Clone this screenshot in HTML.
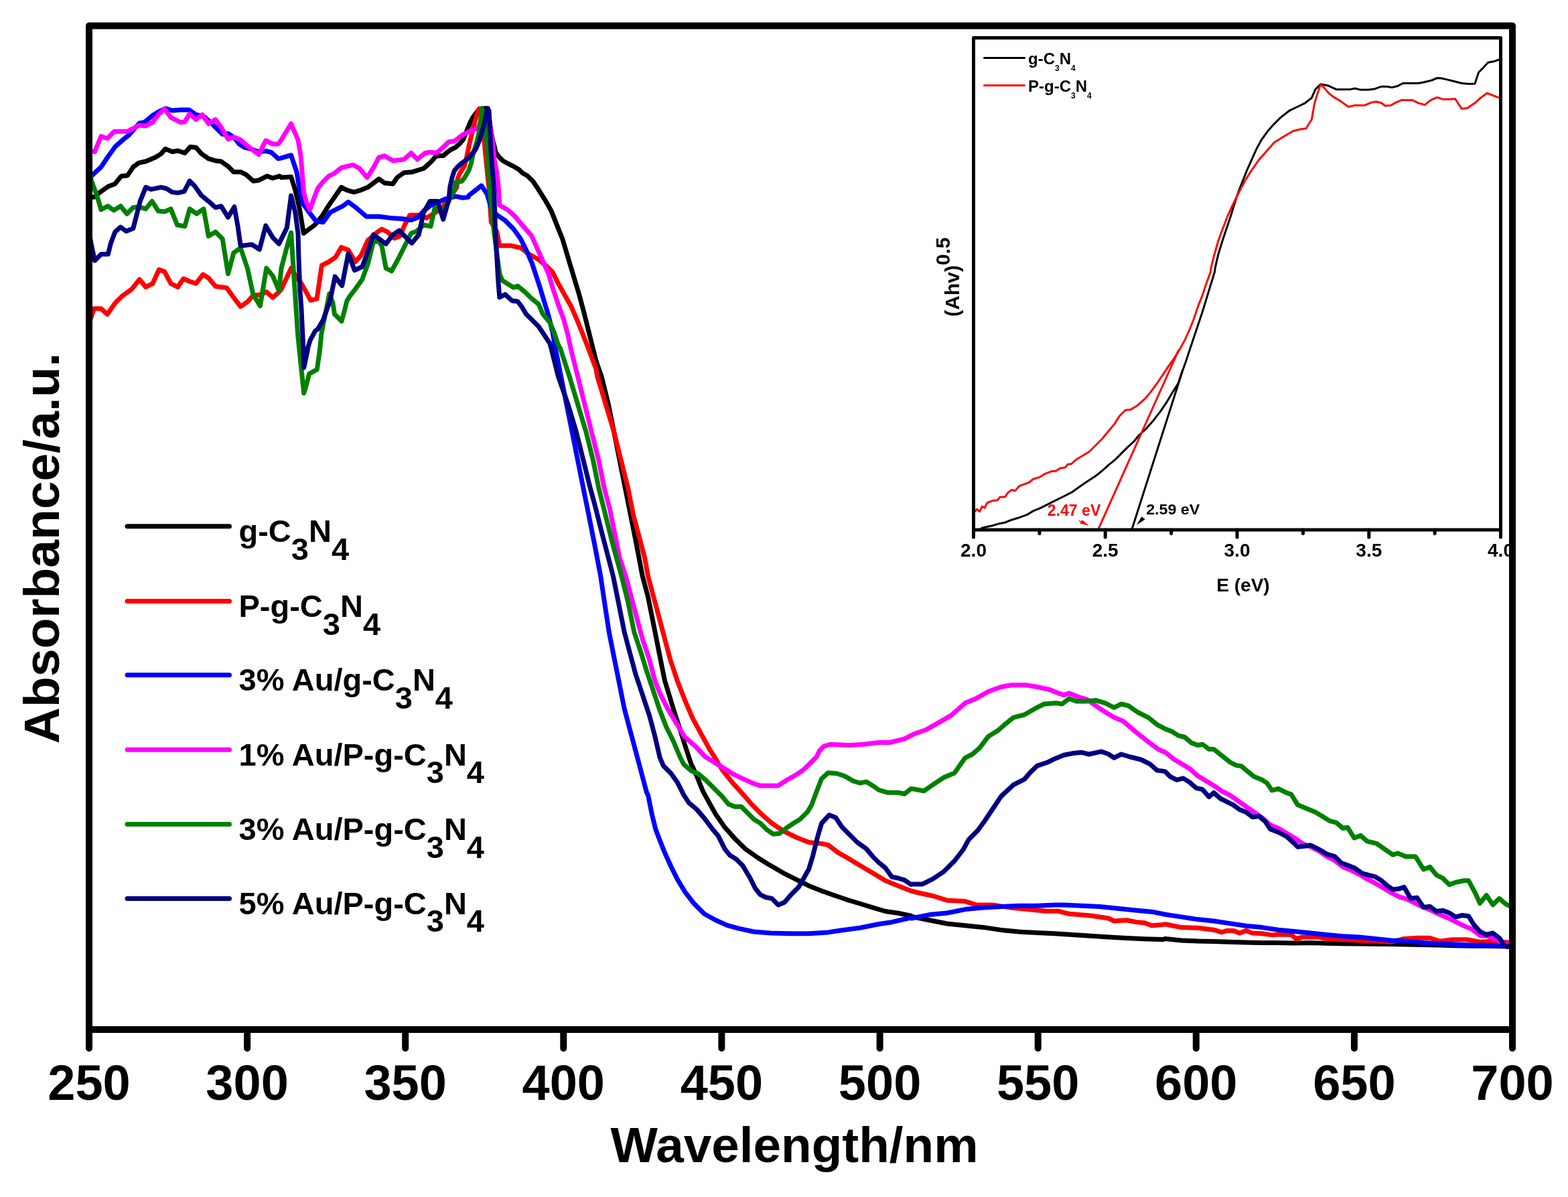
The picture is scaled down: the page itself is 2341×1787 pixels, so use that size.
<!DOCTYPE html>
<html><head><meta charset="utf-8"><title>Absorbance spectra</title>
<style>html,body{margin:0;padding:0;background:#fff;}svg{display:block;}</style>
</head><body>
<svg width="2341" height="1787" viewBox="0 0 2341 1787">
<rect x="0" y="0" width="2341" height="1787" fill="#ffffff"/>
<g fill="none" stroke-width="7" stroke-linejoin="round" stroke-linecap="butt">
<path stroke="#000000" d="M133.0,294.2 L140.5,294.2 L150.9,285.8 L161.3,278.5 L171.8,274.4 L181.1,262.9 L190.5,261.9 L198.8,249.4 L207.2,243.1 L217.6,241.0 L232.2,234.8 L240.5,229.6 L246.8,222.3 L257.2,226.5 L265.5,225.0 L275.9,228.5 L284.2,219.2 L292.6,220.2 L300.9,229.6 L311.3,236.9 L321.8,240.0 L330.1,241.0 L340.5,248.3 L348.8,256.7 L359.2,256.7 L367.6,260.8 L378.0,270.2 L386.3,269.2 L398.8,262.9 L407.2,266.0 L417.6,262.9 L420.0,265.0 L434.6,264.0 L440.8,283.8 L447.1,310.8 L453.3,348.3 L470.0,335.8 L480.4,323.3 L490.8,306.7 L509.6,279.6 L517.9,283.8 L528.3,286.9 L538.8,283.8 L549.2,279.6 L565.8,267.1 L574.2,273.3 L586.7,274.4 L592.9,265.0 L603.3,257.7 L615.8,256.7 L632.5,251.5 L640.0,245.0 L645.0,240.0 L650.8,233.3 L656.7,232.5 L661.7,232.5 L667.5,227.5 L673.3,223.3 L680.0,220.0 L685.8,215.0 L691.7,208.3 L695.0,200.0 L698.3,191.7 L701.7,183.3 L705.0,176.7 L709.2,170.8 L712.5,166.7 L715.8,162.9 L723.3,161.8 L728.3,161.8 L731.7,186.7 L733.8,200.0 L735.8,210.8 L738.3,219.2 L740.0,227.5 L745.0,234.2 L750.8,240.0 L758.3,244.2 L766.7,248.3 L775.0,253.3 L780.0,258.3 L787.5,262.5 L795.8,270.8 L804.2,283.3 L814.6,300.0 L822.9,314.6 L831.2,335.4 L839.6,356.2 L845.8,377.1 L852.1,397.9 L858.3,418.8 L864.6,439.6 L870.8,462.5 L877.1,487.5 L883.3,512.5 L889.6,537.5 L893.8,550.0 L897.9,561.7 L908.3,603.3 L916.7,645.0 L925.0,686.7 L933.3,728.3 L941.7,770.0 L950.0,811.7 L959.2,860.0 L967.5,891.2 L973.8,922.5 L980.0,953.8 L986.2,985.0 L992.5,1016.2 L1000.8,1043.3 L1007.1,1064.2 L1015.4,1089.2 L1023.8,1116.2 L1032.1,1141.2 L1034.3,1145.2 L1041.9,1162.4 L1049.5,1181.4 L1059.0,1198.6 L1068.6,1215.7 L1081.9,1234.8 L1097.1,1251.9 L1112.4,1267.1 L1131.4,1280.5 L1146.7,1290.0 L1169.5,1303.3 L1188.6,1312.9 L1207.6,1322.4 L1226.7,1330.0 L1245.7,1336.7 L1264.8,1343.3 L1283.8,1349.0 L1302.9,1354.8 L1321.9,1360.5 L1341.0,1363.3 L1360.0,1367.1 L1360.7,1368.3 L1387.5,1373.7 L1414.2,1379.0 L1441.0,1381.7 L1467.8,1384.4 L1494.6,1388.4 L1521.4,1391.1 L1548.2,1392.4 L1574.9,1393.8 L1601.7,1395.6 L1628.5,1397.2 L1655.3,1399.1 L1682.1,1400.5 L1708.8,1401.8 L1735.6,1402.6 L1740.0,1401.5 L1764.1,1403.9 L1788.2,1405.1 L1812.2,1405.5 L1836.3,1406.3 L1860.4,1407.0 L1884.5,1407.5 L1908.6,1407.5 L1932.6,1408.0 L1956.7,1407.5 L1980.8,1408.2 L2004.9,1408.7 L2028.9,1408.9 L2053.0,1409.2 L2077.1,1409.4 L2101.2,1409.9 L2125.3,1410.4 L2149.3,1411.1 L2173.4,1411.8 L2197.5,1412.3 L2221.6,1412.3 L2245.7,1412.8 L2255.3,1412.8"/>
<path stroke="#FF0000" d="M133.0,481.7 L140.5,460.8 L150.9,460.8 L160.3,469.2 L171.8,452.5 L182.2,442.1 L196.8,431.7 L208.2,417.1 L217.6,428.5 L228.0,423.3 L237.4,402.5 L245.7,405.6 L255.1,423.3 L265.5,428.5 L273.8,416.0 L283.2,420.2 L292.6,423.3 L303.0,409.8 L311.3,415.0 L321.8,427.5 L338.4,429.6 L348.8,444.2 L359.2,457.7 L369.7,450.4 L378.0,441.0 L388.4,440.0 L397.8,435.8 L407.2,444.2 L415.5,436.9 L420.0,431.7 L434.6,400.4 L440.8,410.8 L451.2,425.4 L463.8,448.3 L473.1,446.2 L480.4,396.2 L490.8,391.0 L501.2,383.8 L509.6,369.2 L520.0,373.3 L530.4,391.0 L538.8,381.7 L549.2,358.8 L563.8,346.2 L570.0,342.1 L578.3,346.2 L588.8,355.6 L597.1,352.5 L603.3,337.9 L611.7,321.2 L624.2,321.2 L636.7,325.4 L647.1,319.2 L659.6,310.8 L672.1,294.2 L681.7,280.0 L683.3,266.7 L686.7,258.3 L693.3,248.3 L696.7,234.2 L701.7,210.8 L705.0,198.3 L706.7,190.0 L710.8,175.0 L713.3,165.0 L715.4,162.5 L717.9,167.5 L720.0,181.7 L721.7,198.3 L723.3,215.0 L725.8,240.0 L728.3,265.0 L730.0,280.0 L733.3,331.2 L741.7,345.8 L745.8,366.7 L762.5,366.7 L777.1,369.8 L789.6,379.2 L804.2,387.5 L816.7,397.9 L825.0,406.2 L833.3,422.9 L843.8,441.7 L852.1,456.2 L860.4,475.0 L868.8,495.8 L877.1,516.7 L883.3,533.3 L889.6,550.0 L891.7,561.7 L904.2,603.3 L916.7,645.0 L927.1,686.7 L937.5,728.3 L945.8,770.0 L954.2,801.2 L962.5,832.5 L967.5,860.0 L975.8,891.2 L984.2,922.5 L992.5,953.8 L1000.8,985.0 L1011.2,1016.2 L1021.7,1043.3 L1034.2,1072.5 L1046.7,1095.4 L1059.2,1118.3 L1066.7,1130.0 L1078.1,1149.0 L1093.3,1168.1 L1110.5,1187.1 L1121.9,1200.5 L1137.1,1215.7 L1152.4,1229.0 L1169.5,1240.5 L1188.6,1250.0 L1207.6,1257.6 L1226.7,1259.5 L1236.2,1261.4 L1251.4,1272.9 L1264.8,1280.5 L1283.8,1291.9 L1302.9,1303.3 L1321.9,1314.8 L1341.0,1322.4 L1360.0,1330.0 L1374.1,1333.5 L1392.8,1337.5 L1414.2,1344.2 L1441.0,1345.6 L1457.1,1350.9 L1481.2,1350.9 L1508.0,1354.9 L1534.8,1357.6 L1561.5,1360.3 L1580.3,1360.3 L1596.4,1364.3 L1628.5,1367.0 L1655.3,1371.0 L1663.3,1375.0 L1682.1,1373.7 L1695.4,1376.4 L1708.8,1377.7 L1719.6,1381.7 L1735.6,1380.4 L1740.0,1379.8 L1752.0,1382.2 L1764.1,1384.6 L1788.2,1385.3 L1812.2,1388.2 L1824.3,1391.8 L1831.5,1389.4 L1841.1,1389.4 L1850.8,1393.0 L1860.4,1389.4 L1870.0,1393.0 L1884.5,1393.7 L1898.9,1395.9 L1908.6,1395.0 L1927.8,1395.4 L1935.0,1401.5 L1944.7,1399.0 L1956.7,1399.0 L1968.8,1399.0 L1980.8,1401.5 L2004.9,1402.7 L2028.9,1403.9 L2053.0,1405.1 L2077.1,1406.3 L2096.4,1401.5 L2115.6,1400.3 L2134.9,1400.3 L2149.3,1405.1 L2168.6,1402.7 L2190.3,1402.7 L2209.5,1406.3 L2233.6,1405.1 L2255.3,1407.5"/>
<path stroke="#0000FF" d="M133.0,273.3 L136.3,262.9 L150.9,249.4 L161.3,233.8 L171.8,219.2 L182.2,209.8 L192.6,201.5 L208.2,183.8 L215.5,182.7 L228.0,172.3 L236.3,167.1 L246.8,161.9 L257.2,165.0 L269.7,164.0 L282.2,164.0 L292.6,171.2 L305.1,174.4 L315.5,183.8 L323.8,192.1 L332.2,200.4 L340.5,199.4 L348.8,204.6 L357.2,215.0 L365.5,220.2 L373.8,222.3 L386.3,226.5 L396.8,225.4 L405.1,227.5 L415.5,236.9 L420.0,235.8 L434.6,231.7 L442.9,256.7 L447.1,281.7 L451.2,302.5 L461.7,317.1 L472.1,330.6 L482.5,331.7 L492.9,317.1 L503.3,311.9 L511.7,307.7 L520.0,301.5 L532.5,310.8 L547.1,323.3 L565.8,323.3 L582.5,325.4 L599.2,326.5 L613.8,328.5 L624.2,324.4 L632.5,315.0 L642.9,306.7 L653.3,302.5 L663.8,297.3 L680.4,293.1 L690.8,295.2 L699.2,294.2 L700.0,291.7 L708.3,285.4 L718.8,277.1 L727.1,289.6 L733.3,310.4 L741.7,320.8 L754.2,329.2 L766.7,341.7 L777.1,356.2 L785.4,372.9 L793.8,391.7 L800.0,410.4 L806.2,429.2 L812.5,450.0 L818.8,470.8 L825.0,495.8 L829.2,520.0 L837.5,561.7 L845.8,603.3 L854.2,645.0 L862.5,686.7 L870.8,728.3 L879.2,770.0 L887.5,811.7 L896.7,860.0 L902.9,901.7 L909.2,943.3 L917.5,985.0 L923.8,1016.2 L932.1,1057.9 L940.4,1089.2 L948.8,1120.4 L957.1,1151.7 L965.4,1182.9 L967.6,1187.1 L973.3,1215.7 L979.0,1238.6 L984.8,1253.8 L992.4,1272.9 L1001.9,1293.8 L1011.4,1312.9 L1022.9,1331.9 L1036.2,1349.0 L1051.4,1364.3 L1068.6,1373.8 L1085.7,1381.4 L1102.9,1386.2 L1125.7,1391.0 L1150.5,1392.9 L1179.0,1393.8 L1207.6,1393.8 L1236.2,1391.9 L1255.2,1389.0 L1283.8,1385.2 L1312.4,1379.5 L1331.4,1376.7 L1360.0,1370.0 L1360.7,1371.0 L1387.5,1365.6 L1414.2,1363.0 L1441.0,1357.6 L1467.8,1354.9 L1494.6,1353.6 L1521.4,1352.3 L1548.2,1352.3 L1574.9,1350.9 L1588.3,1350.9 L1615.1,1352.3 L1641.9,1353.6 L1668.7,1356.3 L1695.4,1359.0 L1722.2,1361.6 L1740.0,1365.3 L1764.1,1368.9 L1788.2,1372.6 L1812.2,1375.0 L1836.3,1378.6 L1860.4,1382.2 L1884.5,1384.6 L1908.6,1388.2 L1932.6,1390.6 L1956.7,1393.0 L1980.8,1395.4 L2004.9,1397.8 L2028.9,1399.0 L2053.0,1401.5 L2077.1,1403.9 L2101.2,1405.1 L2125.3,1407.5 L2149.3,1408.7 L2173.4,1409.9 L2197.5,1411.1 L2221.6,1411.1 L2245.7,1412.3 L2255.3,1412.3"/>
<path stroke="#FF00FF" d="M133.0,225.4 L141.5,226.5 L150.9,203.5 L160.3,206.7 L170.7,196.2 L190.5,196.2 L208.2,186.9 L217.6,187.9 L228.0,182.7 L236.3,171.2 L245.7,162.5 L255.1,175.4 L269.7,182.7 L275.9,181.7 L283.2,170.2 L292.6,178.5 L302.0,171.2 L311.3,184.8 L321.8,178.5 L330.1,190.0 L340.5,207.7 L348.8,204.6 L359.2,208.8 L369.7,218.1 L386.3,230.6 L396.8,209.8 L407.2,215.0 L415.5,215.0 L420.0,208.8 L434.6,184.8 L445.0,208.8 L449.2,233.8 L453.3,285.8 L457.5,302.5 L462.7,312.9 L467.9,298.3 L474.2,281.7 L482.5,271.2 L490.8,262.9 L499.2,258.8 L509.6,250.4 L517.9,248.3 L527.3,246.2 L536.7,251.5 L548.1,265.0 L557.5,250.4 L565.8,234.8 L574.2,232.7 L586.7,240.0 L603.3,237.9 L613.8,228.5 L623.1,237.9 L634.6,228.5 L640.0,227.5 L645.0,227.5 L651.7,228.3 L656.7,224.2 L663.3,218.3 L670.0,211.7 L678.3,210.8 L685.0,205.8 L690.0,201.7 L696.7,198.3 L701.7,195.8 L706.7,195.0 L715.0,188.3 L720.0,175.0 L724.2,167.5 L728.3,167.5 L730.8,181.7 L733.3,198.3 L735.8,215.0 L738.3,240.0 L741.7,256.7 L744.2,280.0 L745.8,306.2 L758.3,313.5 L768.8,322.9 L779.2,335.4 L793.8,352.1 L802.1,370.8 L810.4,389.6 L818.8,408.3 L825.0,429.2 L833.3,454.2 L841.7,477.1 L847.9,500.0 L852.1,520.0 L862.5,561.7 L872.9,603.3 L883.3,645.0 L893.8,686.7 L902.1,728.3 L910.4,759.6 L918.8,801.2 L925.0,832.5 L934.2,860.0 L942.5,891.2 L950.8,922.5 L959.2,953.8 L969.6,985.0 L977.9,1016.2 L986.2,1037.1 L996.7,1057.9 L1009.2,1078.8 L1021.7,1099.6 L1038.3,1114.2 L1053.3,1130.0 L1062.9,1135.7 L1078.1,1145.2 L1093.3,1154.8 L1108.6,1162.4 L1125.7,1170.0 L1135.2,1172.9 L1161.9,1172.9 L1175.2,1164.3 L1188.6,1156.7 L1200.0,1149.0 L1213.3,1135.7 L1219.0,1130.0 L1223.8,1120.4 L1230.0,1114.2 L1240.2,1111.2 L1267.0,1112.6 L1288.4,1111.2 L1312.5,1108.5 L1328.5,1108.5 L1350.0,1103.2 L1366.0,1095.2 L1382.1,1089.8 L1400.9,1079.1 L1419.6,1068.4 L1441.0,1049.6 L1457.1,1042.9 L1475.8,1032.2 L1494.6,1025.5 L1510.7,1022.8 L1532.1,1022.8 L1548.2,1025.5 L1566.9,1029.5 L1580.3,1034.9 L1588.3,1037.6 L1596.4,1034.9 L1609.7,1040.3 L1623.1,1044.3 L1641.9,1057.7 L1663.3,1071.1 L1676.7,1076.4 L1695.4,1092.5 L1714.2,1107.2 L1730.3,1119.3 L1740.0,1123.3 L1752.0,1133.0 L1764.1,1140.2 L1776.1,1147.4 L1788.2,1158.3 L1800.2,1165.5 L1812.2,1172.7 L1824.3,1181.1 L1836.3,1187.2 L1848.4,1195.6 L1860.4,1204.0 L1872.4,1212.4 L1884.5,1220.9 L1896.5,1231.7 L1908.6,1236.5 L1920.6,1243.7 L1932.6,1251.0 L1944.7,1259.4 L1956.7,1264.2 L1968.8,1270.2 L1980.8,1278.7 L1992.8,1284.7 L2004.9,1294.3 L2016.9,1299.1 L2028.9,1305.1 L2041.0,1312.4 L2053.0,1318.4 L2065.1,1325.6 L2077.1,1332.8 L2089.1,1338.8 L2101.2,1342.5 L2113.2,1348.5 L2125.3,1354.5 L2137.3,1359.3 L2149.3,1365.3 L2161.4,1370.2 L2173.4,1376.2 L2185.5,1382.2 L2197.5,1387.0 L2209.5,1396.6 L2221.6,1397.8 L2233.6,1402.7 L2245.7,1408.7 L2255.3,1412.3"/>
<path stroke="#008000" d="M133.0,248.3 L136.3,269.2 L144.7,292.1 L150.9,312.9 L161.3,307.7 L169.7,314.0 L180.1,307.7 L189.5,319.2 L198.8,309.8 L207.2,308.8 L217.6,311.9 L227.0,300.4 L236.3,315.0 L245.7,316.0 L255.1,311.9 L264.5,335.8 L275.9,337.9 L283.2,311.9 L293.6,319.2 L304.0,311.9 L311.3,352.5 L321.8,346.2 L332.2,356.7 L340.5,408.8 L348.8,377.5 L359.2,370.2 L369.7,401.5 L378.0,440.0 L388.4,456.7 L397.8,400.4 L407.2,411.9 L416.5,433.8 L420.0,400.4 L428.3,369.2 L434.6,347.3 L436.7,380.0 L439.3,419.3 L441.9,458.6 L444.5,497.9 L447.1,524.1 L449.8,550.2 L453.7,586.9 L457.6,573.8 L461.6,558.1 L473.3,551.6 L477.3,524.1 L479.9,497.9 L483.8,478.2 L489.1,452.0 L491.7,438.9 L496.9,452.0 L499.5,469.1 L510.0,479.5 L513.9,465.1 L517.9,449.4 L521.8,442.9 L530.4,431.7 L540.8,417.1 L549.2,394.2 L557.5,360.8 L565.8,360.8 L570.0,367.1 L576.2,400.4 L584.6,404.6 L595.0,385.8 L607.5,360.8 L613.8,348.3 L622.1,345.2 L632.5,335.8 L642.9,337.9 L649.2,310.8 L661.7,315.0 L670.0,300.4 L679.2,280.0 L680.8,271.7 L689.2,270.8 L693.3,265.8 L700.0,254.2 L703.3,244.2 L705.8,231.7 L708.3,223.3 L711.7,212.5 L715.0,198.3 L717.9,177.5 L718.8,165.0 L719.2,161.7 L721.2,169.2 L724.2,185.8 L726.7,215.0 L729.2,248.3 L730.8,280.0 L737.5,345.8 L745.8,408.3 L750.0,418.8 L766.7,429.2 L772.9,427.1 L783.3,435.4 L793.8,445.8 L804.2,454.2 L810.4,468.8 L820.8,481.2 L827.1,495.8 L833.3,514.6 L836.5,520.0 L850.0,561.7 L862.5,603.3 L875.0,645.0 L885.4,686.7 L893.8,728.3 L904.2,770.0 L914.6,811.7 L927.9,860.0 L938.3,901.7 L946.7,943.3 L957.1,974.6 L965.4,1001.7 L973.8,1026.7 L984.2,1057.9 L994.6,1085.0 L1005.0,1105.8 L1015.2,1130.0 L1021.0,1141.4 L1032.4,1151.0 L1041.9,1154.8 L1053.3,1164.3 L1066.7,1177.6 L1078.1,1189.0 L1087.6,1200.5 L1097.1,1204.3 L1106.7,1204.3 L1116.2,1213.8 L1125.7,1223.3 L1135.2,1229.0 L1144.8,1238.6 L1154.3,1245.2 L1163.8,1244.3 L1173.3,1236.7 L1184.8,1229.0 L1194.3,1223.3 L1205.7,1211.9 L1211.4,1202.4 L1217.1,1187.1 L1222.9,1171.9 L1226.7,1162.4 L1236.2,1153.8 L1249.5,1154.8 L1261.0,1158.6 L1274.3,1166.2 L1283.8,1169.0 L1293.3,1167.1 L1302.9,1172.9 L1312.4,1179.5 L1325.7,1183.3 L1341.0,1183.3 L1350.5,1185.2 L1360.0,1177.6 L1366.0,1178.2 L1379.4,1180.9 L1392.8,1171.5 L1408.9,1160.8 L1425.0,1154.1 L1441.0,1131.3 L1451.7,1126.0 L1462.5,1116.6 L1475.8,1099.2 L1489.2,1091.1 L1499.9,1081.8 L1513.3,1071.1 L1529.4,1067.0 L1545.5,1057.7 L1558.9,1051.0 L1577.6,1049.6 L1585.6,1051.0 L1596.4,1042.9 L1607.1,1047.0 L1620.5,1047.0 L1636.5,1045.6 L1649.9,1049.6 L1663.3,1056.3 L1674.0,1051.0 L1684.7,1053.6 L1698.1,1063.0 L1714.2,1071.1 L1727.6,1081.8 L1740.0,1088.4 L1749.6,1092.0 L1759.3,1098.1 L1768.9,1100.5 L1778.5,1108.9 L1788.2,1112.5 L1795.4,1111.3 L1805.0,1118.5 L1812.2,1118.5 L1824.3,1128.2 L1836.3,1137.8 L1845.9,1142.6 L1853.2,1143.8 L1860.4,1149.8 L1872.4,1159.5 L1884.5,1164.3 L1891.7,1169.1 L1898.9,1179.9 L1908.6,1177.5 L1920.6,1183.5 L1927.8,1185.9 L1937.4,1201.6 L1949.5,1206.4 L1963.9,1212.4 L1976.0,1219.7 L1985.6,1225.7 L1995.2,1228.1 L2004.9,1236.5 L2012.1,1235.3 L2021.7,1251.0 L2031.4,1247.3 L2041.0,1255.8 L2055.4,1259.4 L2067.5,1267.8 L2079.5,1276.2 L2086.7,1273.8 L2098.8,1278.7 L2113.2,1278.7 L2125.3,1297.9 L2134.9,1294.3 L2144.5,1306.3 L2154.2,1311.2 L2163.8,1320.8 L2173.4,1317.2 L2185.5,1314.8 L2192.7,1314.8 L2202.3,1332.8 L2209.5,1348.5 L2219.2,1336.4 L2228.8,1350.9 L2238.4,1341.3 L2248.1,1349.7 L2255.3,1353.3"/>
<path stroke="#000080" d="M133.0,346.2 L136.3,365.0 L141.5,389.0 L150.9,379.6 L161.3,379.6 L165.5,362.9 L171.8,346.2 L180.1,339.0 L188.4,345.2 L198.8,341.0 L204.0,321.2 L209.2,300.4 L217.6,279.6 L225.9,282.7 L240.5,279.6 L248.8,281.7 L257.2,286.9 L265.5,287.9 L274.9,285.8 L283.2,270.2 L290.5,277.5 L300.9,292.1 L311.3,300.4 L321.8,309.8 L330.1,307.7 L340.5,324.4 L349.9,308.8 L355.1,337.9 L359.2,367.1 L375.9,365.0 L387.4,372.3 L396.8,336.9 L407.2,354.6 L416.5,364.0 L428.3,340.0 L434.6,292.1 L440.8,317.1 L445.0,348.3 L445.8,380.0 L447.8,432.4 L449.8,458.6 L452.4,511.0 L453.7,548.9 L457.6,530.6 L460.2,517.5 L462.9,508.3 L470.7,493.9 L474.6,491.3 L482.5,477.5 L492.9,448.3 L500.2,412.9 L510.6,426.5 L520.0,378.5 L529.4,403.5 L540.8,398.3 L549.2,375.4 L557.5,350.4 L576.2,364.0 L586.7,350.4 L596.0,344.2 L614.8,362.9 L625.2,350.4 L632.5,317.1 L641.9,300.4 L653.3,300.4 L661.7,327.5 L670.0,298.3 L671.7,280.0 L675.0,265.0 L678.3,255.0 L681.7,250.8 L687.5,245.0 L696.7,238.3 L703.3,231.7 L710.0,223.3 L715.0,211.7 L719.2,198.3 L723.3,184.2 L725.8,170.8 L727.9,162.5 L730.0,165.0 L731.7,198.3 L733.3,231.7 L735.8,260.8 L737.5,280.0 L739.6,345.8 L743.8,418.8 L745.8,443.8 L754.2,439.6 L764.6,449.0 L772.9,450.0 L779.2,458.3 L785.4,468.8 L793.8,477.1 L804.2,487.5 L812.5,500.0 L820.8,512.5 L822.9,520.0 L833.3,561.7 L847.9,603.3 L860.4,645.0 L870.8,686.7 L881.2,728.3 L889.6,759.6 L900.0,801.2 L908.3,832.5 L915.4,860.0 L923.8,901.7 L932.1,943.3 L940.4,974.6 L948.8,1005.8 L959.2,1037.1 L969.6,1068.3 L977.9,1099.6 L984.2,1126.7 L984.8,1130.0 L990.5,1143.3 L1001.9,1154.8 L1011.4,1168.1 L1021.0,1187.1 L1028.6,1198.6 L1040.0,1208.1 L1051.4,1221.4 L1062.9,1236.7 L1072.4,1248.1 L1081.9,1267.1 L1089.5,1276.7 L1099.0,1282.4 L1108.6,1291.9 L1120.0,1311.0 L1127.6,1326.2 L1135.2,1335.7 L1142.9,1339.5 L1152.4,1341.4 L1161.9,1351.0 L1171.4,1347.1 L1181.0,1335.7 L1192.4,1324.3 L1200.0,1311.0 L1207.6,1297.6 L1213.3,1278.6 L1217.1,1263.3 L1221.0,1248.1 L1226.7,1229.0 L1238.1,1216.7 L1247.6,1220.5 L1257.1,1234.8 L1268.6,1246.2 L1280.0,1257.6 L1293.3,1267.1 L1302.9,1278.6 L1312.4,1288.1 L1321.9,1295.7 L1331.4,1309.0 L1341.0,1311.0 L1350.5,1313.8 L1360.0,1320.5 L1360.7,1320.1 L1376.8,1320.1 L1392.8,1312.1 L1408.9,1301.4 L1425.0,1285.3 L1438.4,1267.9 L1446.4,1253.2 L1459.8,1239.8 L1470.5,1225.0 L1481.2,1209.0 L1494.6,1188.9 L1513.3,1171.5 L1529.4,1163.4 L1537.4,1154.1 L1548.2,1143.4 L1564.2,1138.0 L1574.9,1132.7 L1588.3,1127.3 L1601.7,1124.6 L1615.1,1123.3 L1625.8,1126.0 L1644.6,1121.9 L1655.3,1126.0 L1663.3,1131.3 L1674.0,1126.0 L1687.4,1130.0 L1703.5,1134.0 L1716.9,1140.7 L1727.6,1150.1 L1738.3,1151.4 L1740.0,1152.2 L1747.2,1159.5 L1756.9,1164.3 L1766.5,1161.9 L1776.1,1167.9 L1785.8,1176.3 L1795.4,1178.7 L1805.0,1189.6 L1812.2,1183.5 L1821.9,1192.0 L1831.5,1196.8 L1841.1,1201.6 L1850.8,1208.8 L1860.4,1212.4 L1870.0,1219.7 L1879.7,1218.5 L1889.3,1226.9 L1896.5,1237.7 L1908.6,1242.5 L1920.6,1248.6 L1932.6,1259.4 L1937.4,1264.2 L1949.5,1263.0 L1956.7,1261.8 L1968.8,1267.8 L1980.8,1275.0 L1992.8,1278.7 L2002.5,1288.3 L2012.1,1291.9 L2021.7,1295.5 L2033.8,1303.9 L2043.4,1306.3 L2053.0,1308.8 L2062.7,1314.8 L2072.3,1323.2 L2079.5,1328.0 L2089.1,1326.8 L2096.4,1324.4 L2106.0,1341.3 L2115.6,1340.1 L2125.3,1354.5 L2134.9,1353.3 L2144.5,1360.5 L2154.2,1359.3 L2163.8,1362.9 L2173.4,1368.9 L2183.1,1366.5 L2192.7,1367.7 L2199.9,1379.8 L2209.5,1390.6 L2219.2,1395.4 L2228.8,1393.0 L2238.4,1400.3 L2245.7,1411.1 L2250.5,1413.5 L2255.3,1411.1"/>
</g>
<g fill="none" stroke-width="3" stroke-linejoin="round">
<path stroke="#000000" d="M1464.4,788.6 L1472.0,786.7 L1481.6,784.8 L1491.1,781.9 L1500.6,780.0 L1510.1,776.2 L1519.7,773.3 L1533.0,768.6 L1542.5,762.9 L1554.0,758.1 L1565.4,752.4 L1576.8,746.7 L1588.2,741.0 L1599.7,735.2 L1613.0,725.7 L1624.4,718.1 L1635.9,710.5 L1645.4,702.9 L1654.9,694.3 L1664.4,686.7 L1674.0,677.1 L1683.5,667.6 L1693.0,659.0 L1700.6,649.5 L1711.2,640.1 L1722.0,627.7 L1732.9,613.7 L1742.2,599.8 L1751.5,584.3 L1759.2,572.0 L1763.8,558.0 L1770.0,541.0 L1776.2,522.4 L1782.4,503.8 L1788.6,485.3 L1794.8,466.7 L1801.0,446.6 L1807.2,426.4 L1813.4,406.3 L1814.2,400.1 L1818.8,379.9 L1825.0,359.8 L1831.2,341.2 L1837.4,322.7 L1843.6,302.5 L1849.8,284.0 L1856.0,268.5 L1862.2,253.0 L1868.4,239.1 L1876.1,222.0 L1883.8,208.1 L1891.6,197.3 L1900.9,186.4 L1911.7,175.6 L1925.6,164.8 L1940.0,158.0 L1948.5,153.8 L1958.3,146.1 L1963.9,133.4 L1971.7,125.6 L1982.3,127.7 L1994.9,133.4 L2016.1,133.4 L2023.1,132.0 L2031.5,134.1 L2042.8,134.1 L2052.7,132.7 L2062.5,129.2 L2071.0,129.2 L2078.0,130.6 L2086.5,128.5 L2094.9,124.2 L2117.5,124.2 L2125.9,122.8 L2137.2,120.0 L2145.6,116.5 L2151.3,116.8 L2159.7,118.6 L2168.2,120.7 L2182.3,124.2 L2192.1,125.2 L2202.0,124.9 L2207.6,108.0 L2213.2,102.4 L2221.7,93.2 L2230.1,91.8 L2235.8,89.7 L2238.6,89.0"/>
<path stroke="#FF0000" d="M1453.5,765.7 L1458.7,760.0 L1462.5,763.8 L1466.3,756.2 L1470.1,758.1 L1474.0,750.5 L1481.6,747.6 L1489.2,746.7 L1493.0,741.9 L1500.6,741.9 L1504.4,736.2 L1510.1,731.4 L1515.9,732.4 L1521.6,725.7 L1529.2,722.9 L1536.8,720.0 L1542.5,715.2 L1552.0,712.4 L1559.7,707.6 L1569.2,703.8 L1576.8,702.9 L1582.5,699.0 L1590.1,698.1 L1594.0,693.3 L1599.7,692.4 L1607.3,685.7 L1616.8,680.0 L1626.3,674.3 L1635.9,664.8 L1645.4,655.2 L1654.9,643.8 L1664.4,632.4 L1671.0,621.5 L1680.2,612.2 L1688.0,611.4 L1697.3,606.0 L1709.7,595.2 L1717.4,585.9 L1726.7,573.5 L1736.0,559.6 L1745.3,545.6 L1753.0,534.8 L1760.7,522.4 L1768.5,508.5 L1776.2,491.5 L1782.4,476.0 L1788.6,457.4 L1794.8,441.9 L1801.0,423.3 L1807.2,406.3 L1808.0,400.1 L1812.6,381.5 L1818.8,359.8 L1825.0,342.8 L1832.8,322.7 L1840.5,305.6 L1846.7,293.3 L1852.9,280.9 L1860.6,266.9 L1868.4,254.6 L1879.2,239.1 L1891.6,225.1 L1902.4,212.8 L1914.8,205.0 L1930.3,195.7 L1940.0,193.2 L1949.9,191.8 L1958.3,178.5 L1962.5,154.5 L1966.8,140.4 L1971.7,125.6 L1976.6,130.6 L1983.7,139.0 L1990.7,144.6 L1999.2,149.6 L2013.2,159.4 L2023.1,157.3 L2037.2,157.3 L2047.0,153.1 L2054.1,151.7 L2062.5,153.8 L2068.2,158.0 L2076.6,157.3 L2083.7,153.1 L2092.1,149.6 L2100.6,149.6 L2109.0,149.6 L2117.5,153.8 L2127.3,156.6 L2135.8,149.6 L2145.6,145.4 L2154.1,148.2 L2163.9,148.2 L2172.4,147.5 L2182.3,162.3 L2190.7,161.5 L2202.0,153.8 L2210.4,146.1 L2220.3,139.0 L2227.3,141.8 L2238.6,146.1"/>
<path stroke="#FF0000" d="M1638.7,792.4 L1760,522"/>
<path stroke="#000000" d="M1689.2,792.4 L1766,552"/>
</g>
<path stroke="#FF0000" stroke-width="1.5" d="M1610.9,777.3 L1614,779"/>
<polygon fill="#FF0000" points="1626.1,784.8 1615.6,776.3 1612.2,781.6"/>
<polygon fill="#000000" points="1696.9,783.7 1704.5,771.2 1709.7,775.3"/>
<rect x="1453.5" y="56.5" width="787.0" height="734.5" fill="none" stroke="#000" stroke-width="5" stroke-linejoin="round"/>
<path stroke="#000" stroke-width="5" stroke-linecap="round" d="M1453.5,791.0 L1453.5,802.0 M1551.9,791.0 L1551.9,796.5 M1650.2,791.0 L1650.2,802.0 M1748.6,791.0 L1748.6,796.5 M1847.0,791.0 L1847.0,802.0 M1945.4,791.0 L1945.4,796.5 M2043.8,791.0 L2043.8,802.0 M2142.1,791.0 L2142.1,796.5 M2240.5,791.0 L2240.5,802.0"/>
<text x="1453.5" y="830.6" font-size="28" text-anchor="middle" font-family="'Liberation Sans', Arial, sans-serif" font-weight="bold">2.0</text>
<text x="1650.2" y="830.6" font-size="28" text-anchor="middle" font-family="'Liberation Sans', Arial, sans-serif" font-weight="bold">2.5</text>
<text x="1847.0" y="830.6" font-size="28" text-anchor="middle" font-family="'Liberation Sans', Arial, sans-serif" font-weight="bold">3.0</text>
<text x="2043.8" y="830.6" font-size="28" text-anchor="middle" font-family="'Liberation Sans', Arial, sans-serif" font-weight="bold">3.5</text>
<text x="2240.5" y="830.6" font-size="28" text-anchor="middle" font-family="'Liberation Sans', Arial, sans-serif" font-weight="bold">4.0</text>
<text x="1856" y="883" font-size="28" text-anchor="middle" font-family="'Liberation Sans', Arial, sans-serif" font-weight="bold">E (eV)</text>
<text transform="translate(1432,413.5) rotate(-90)" font-size="30" text-anchor="middle" font-family="'Liberation Sans', Arial, sans-serif" font-weight="bold">(Ahv)<tspan dy="-14">0.5</tspan></text>
<path stroke="#000" stroke-width="3" stroke-linecap="round" d="M1469.5,86.4 L1529.5,86.4"/>
<path stroke="#FF0000" stroke-width="3" stroke-linecap="round" d="M1469.5,127.5 L1529.5,127.5"/>
<text x="1535" y="96" font-size="24" font-family="'Liberation Sans', Arial, sans-serif" font-weight="bold">g-C<tspan dy="10" font-size="12">3</tspan><tspan dy="-10">N</tspan><tspan dy="10" font-size="12">4</tspan></text>
<text x="1535" y="137" font-size="24" font-family="'Liberation Sans', Arial, sans-serif" font-weight="bold">P-g-C<tspan dy="10" font-size="12">3</tspan><tspan dy="-10">N</tspan><tspan dy="10" font-size="12">4</tspan></text>
<text x="1563.8" y="769.9" font-size="23" fill="#FF0000" textLength="79.5" lengthAdjust="spacingAndGlyphs" font-family="'Liberation Sans', Arial, sans-serif" font-weight="bold">2.47 eV</text>
<text x="1711.2" y="767.9" font-size="22" fill="#000000" textLength="80" lengthAdjust="spacingAndGlyphs" font-family="'Liberation Sans', Arial, sans-serif" font-weight="bold">2.59 eV</text>
<rect x="133" y="38.5" width="2125" height="1498.5" fill="none" stroke="#000" stroke-width="10" stroke-linejoin="round"/>
<path stroke="#000" stroke-width="10" stroke-linecap="round" d="M133.0,1537 L133.0,1565 M369.1,1537 L369.1,1565 M605.2,1537 L605.2,1565 M841.3,1537 L841.3,1565 M1077.4,1537 L1077.4,1565 M1313.6,1537 L1313.6,1565 M1549.7,1537 L1549.7,1565 M1785.8,1537 L1785.8,1565 M2021.9,1537 L2021.9,1565 M2258.0,1537 L2258.0,1565"/>
<text x="133.0" y="1642" font-size="74" text-anchor="middle" font-family="'Liberation Sans', Arial, sans-serif" font-weight="bold">250</text>
<text x="369.1" y="1642" font-size="74" text-anchor="middle" font-family="'Liberation Sans', Arial, sans-serif" font-weight="bold">300</text>
<text x="605.2" y="1642" font-size="74" text-anchor="middle" font-family="'Liberation Sans', Arial, sans-serif" font-weight="bold">350</text>
<text x="841.3" y="1642" font-size="74" text-anchor="middle" font-family="'Liberation Sans', Arial, sans-serif" font-weight="bold">400</text>
<text x="1077.4" y="1642" font-size="74" text-anchor="middle" font-family="'Liberation Sans', Arial, sans-serif" font-weight="bold">450</text>
<text x="1313.6" y="1642" font-size="74" text-anchor="middle" font-family="'Liberation Sans', Arial, sans-serif" font-weight="bold">500</text>
<text x="1549.7" y="1642" font-size="74" text-anchor="middle" font-family="'Liberation Sans', Arial, sans-serif" font-weight="bold">550</text>
<text x="1785.8" y="1642" font-size="74" text-anchor="middle" font-family="'Liberation Sans', Arial, sans-serif" font-weight="bold">600</text>
<text x="2021.9" y="1642" font-size="74" text-anchor="middle" font-family="'Liberation Sans', Arial, sans-serif" font-weight="bold">650</text>
<text x="2258.0" y="1642" font-size="74" text-anchor="middle" font-family="'Liberation Sans', Arial, sans-serif" font-weight="bold">700</text>
<text x="1186" y="1735" font-size="74.7" text-anchor="middle" font-family="'Liberation Sans', Arial, sans-serif" font-weight="bold">Wavelength/nm</text>
<text transform="translate(88,818.4) rotate(-90)" font-size="75" text-anchor="middle" font-family="'Liberation Sans', Arial, sans-serif" font-weight="bold">Absorbance/a.u.</text>
<path stroke="#000000" stroke-width="7" stroke-linecap="round" d="M190,785.7 L342.5,785.7"/>
<text x="356.5" y="809.2" font-size="47" font-family="'Liberation Sans', Arial, sans-serif" font-weight="bold">g-C<tspan dy="26.5">3</tspan><tspan dy="-26.5">N</tspan><tspan dy="26.5">4</tspan></text>
<path stroke="#FF0000" stroke-width="7" stroke-linecap="round" d="M190,897.5 L342.5,897.5"/>
<text x="356.5" y="921.0" font-size="47" font-family="'Liberation Sans', Arial, sans-serif" font-weight="bold">P-g-C<tspan dy="26.5">3</tspan><tspan dy="-26.5">N</tspan><tspan dy="26.5">4</tspan></text>
<path stroke="#0000FF" stroke-width="7" stroke-linecap="round" d="M190,1007.7 L342.5,1007.7"/>
<text x="356.5" y="1031.2" font-size="47" font-family="'Liberation Sans', Arial, sans-serif" font-weight="bold">3% Au/g-C<tspan dy="26.5">3</tspan><tspan dy="-26.5">N</tspan><tspan dy="26.5">4</tspan></text>
<path stroke="#FF00FF" stroke-width="7" stroke-linecap="round" d="M190,1119.3 L342.5,1119.3"/>
<text x="356.5" y="1142.8" font-size="47" font-family="'Liberation Sans', Arial, sans-serif" font-weight="bold">1% Au/P-g-C<tspan dy="26.5">3</tspan><tspan dy="-26.5">N</tspan><tspan dy="26.5">4</tspan></text>
<path stroke="#008000" stroke-width="7" stroke-linecap="round" d="M190,1230.5 L342.5,1230.5"/>
<text x="356.5" y="1254.0" font-size="47" font-family="'Liberation Sans', Arial, sans-serif" font-weight="bold">3% Au/P-g-C<tspan dy="26.5">3</tspan><tspan dy="-26.5">N</tspan><tspan dy="26.5">4</tspan></text>
<path stroke="#000080" stroke-width="7" stroke-linecap="round" d="M190,1341.4 L342.5,1341.4"/>
<text x="356.5" y="1364.9" font-size="47" font-family="'Liberation Sans', Arial, sans-serif" font-weight="bold">5% Au/P-g-C<tspan dy="26.5">3</tspan><tspan dy="-26.5">N</tspan><tspan dy="26.5">4</tspan></text>
</svg>
</body></html>
